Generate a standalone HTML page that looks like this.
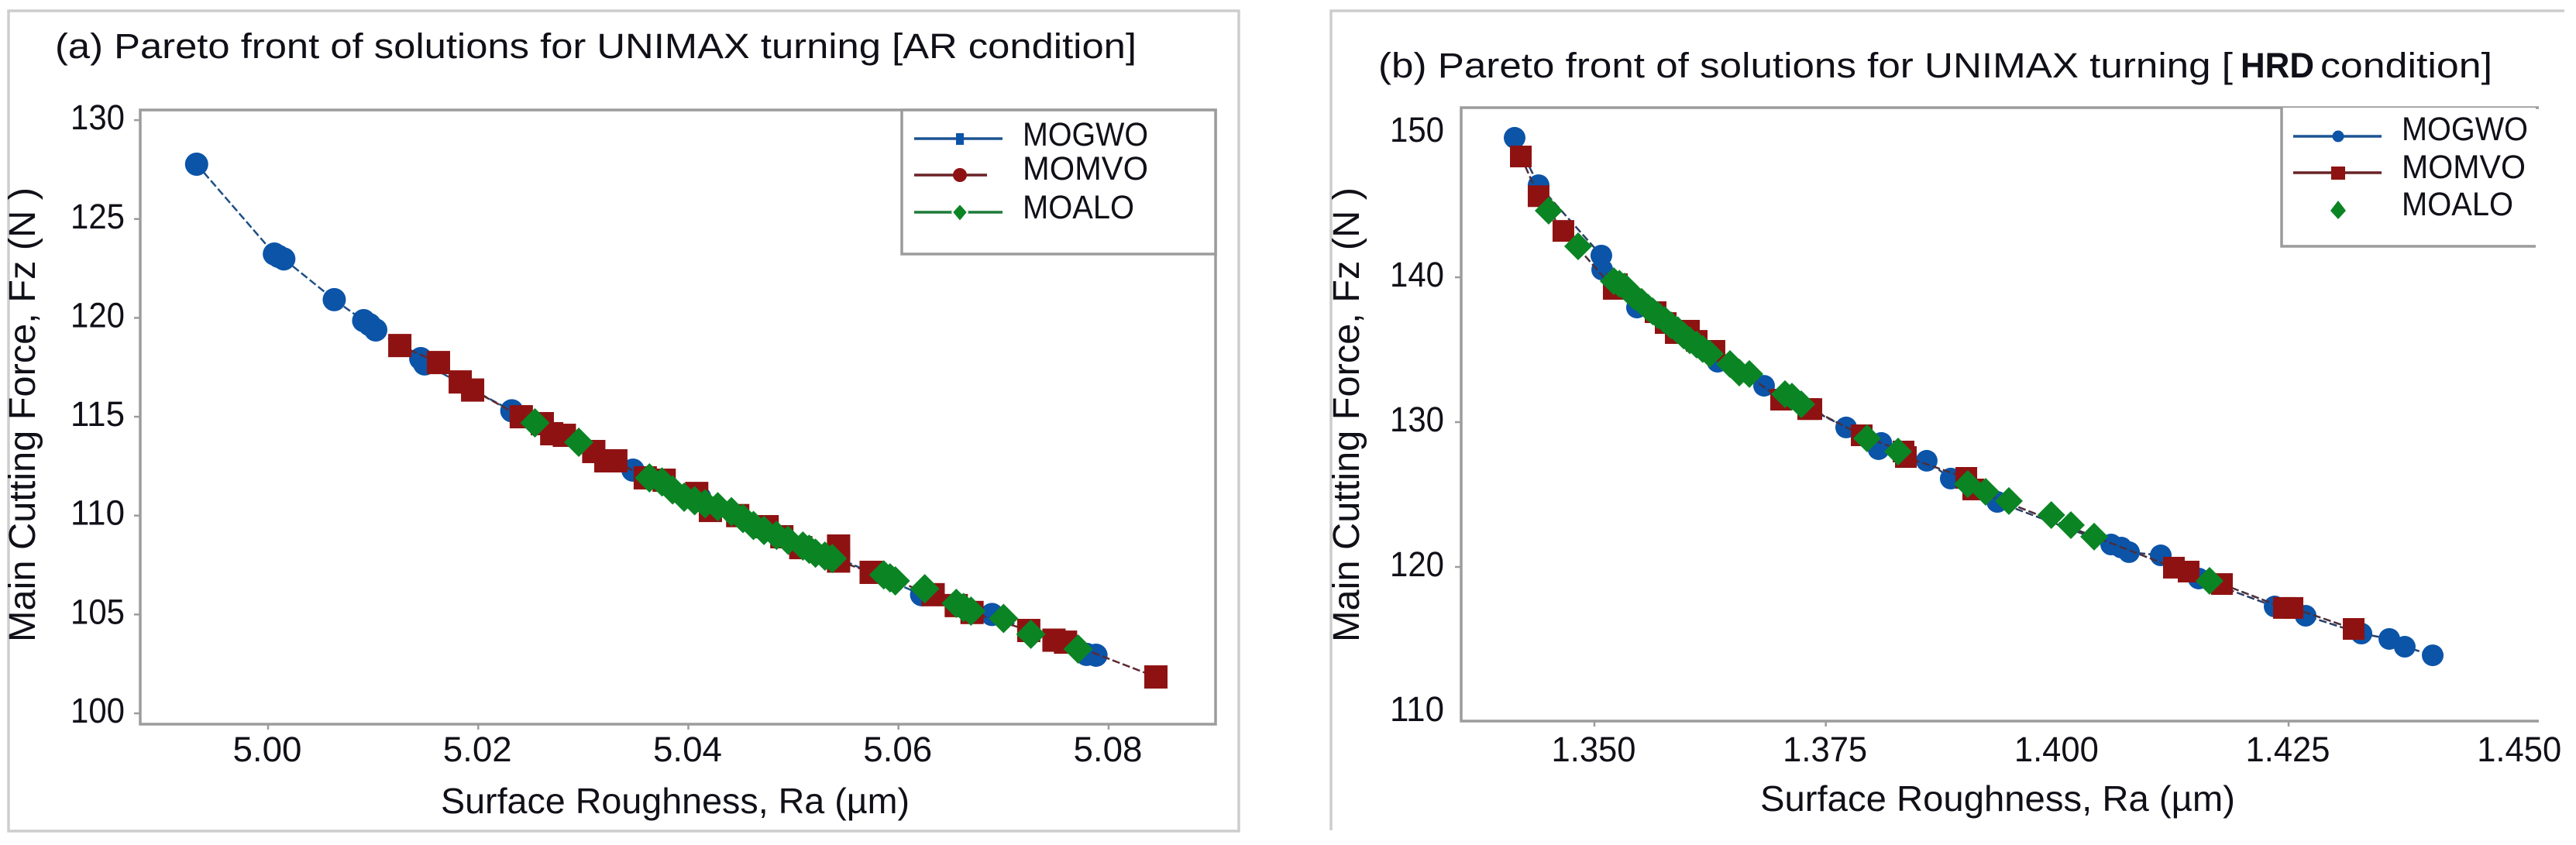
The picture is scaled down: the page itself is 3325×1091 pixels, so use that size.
<!DOCTYPE html>
<html lang="en">
<head>
<meta charset="utf-8">
<title>Pareto fronts for UNIMAX turning</title>
<style>
html,body{margin:0;padding:0;background:#fff;}
svg{display:block;}
text{font-family:"Liberation Sans",sans-serif;fill:#101018;}
</style>
</head>
<body>
<svg id="figure" xmlns="http://www.w3.org/2000/svg" width="3325" height="1091" viewBox="0 0 3325 1091">
  <rect x="0" y="0" width="3325" height="1091" fill="#ffffff"/>

  <g fill="none" stroke="#cdcdcd" stroke-width="3.5">
    <rect x="11" y="14" width="1588" height="1059"/>
  </g>
  <g fill="none" stroke="#cdcdcd" stroke-width="3.5">
    <path d="M1718 1072V14H3310"/>
  </g>

  <text x="71" y="75" font-size="45" textLength="1396" lengthAdjust="spacingAndGlyphs">(a) Pareto front of solutions for UNIMAX turning [AR condition]</text>
  <g font-size="45">
    <text x="1779" y="100" textLength="1103" lengthAdjust="spacingAndGlyphs">(b) Pareto front of solutions for UNIMAX turning [</text>
    <text x="2892" y="100" font-weight="700" textLength="95" lengthAdjust="spacingAndGlyphs">HRD</text>
    <text x="2995" y="100" textLength="222" lengthAdjust="spacingAndGlyphs">condition]</text>
  </g>

  <text transform="translate(45 829) rotate(-90)" font-size="48" textLength="587" lengthAdjust="spacingAndGlyphs">Main Cutting Force, Fz (N )</text>
  <text transform="translate(1754 829) rotate(-90)" font-size="48" textLength="587" lengthAdjust="spacingAndGlyphs">Main Cutting Force, Fz (N )</text>
  <text x="569" y="1050" font-size="46" textLength="605" lengthAdjust="spacingAndGlyphs">Surface Roughness, Ra (µm)</text>
  <text x="2272" y="1047" font-size="46" textLength="613" lengthAdjust="spacingAndGlyphs">Surface Roughness, Ra (µm)</text>

  <g id="chart-a"></g>
  <g id="chart-b"></g>

  <g>
    <rect x="1164" y="142" width="405" height="186" fill="#ffffff" stroke="#9c9c9c" stroke-width="3.5"/>
    <g>
      <line x1="1180" x2="1294" y1="179" y2="179" stroke="#1d5492" stroke-width="3.5"/>
      <rect x="1234" y="172" width="10" height="15" fill="#0b54a8"/>
      <text x="1320" y="188" font-size="43" textLength="162" lengthAdjust="spacingAndGlyphs">MOGWO</text>
    </g>
    <g>
      <line x1="1180" x2="1274" y1="226" y2="226" stroke="#6a2226" stroke-width="3.5"/>
      <ellipse cx="1239" cy="226" rx="9" ry="9" fill="#8f1212"/>
      <text x="1320" y="232" font-size="43" textLength="162" lengthAdjust="spacingAndGlyphs">MOMVO</text>
    </g>
    <g>
      <line x1="1180" x2="1294" y1="274" y2="274" stroke="#1c7a38" stroke-width="3.5"/>
      <polygon points="1239,263 1249,274 1239,286 1229,274" fill="#0b8424" stroke="#ffffff" stroke-width="2"/>
      <text x="1320" y="282" font-size="43" textLength="144" lengthAdjust="spacingAndGlyphs">MOALO</text>
    </g>
  </g>

  <g>
    <rect x="2945" y="139" width="328" height="179" fill="#ffffff"/>
    <path d="M2945 139V318H3273" fill="none" stroke="#9c9c9c" stroke-width="3.5"/>
    <g>
      <line x1="2960" x2="3074" y1="176" y2="176" stroke="#1d5492" stroke-width="3.5"/>
      <circle cx="3018" cy="176" r="7.5" fill="#0b54a8"/>
      <text x="3100" y="181" font-size="43" textLength="163" lengthAdjust="spacingAndGlyphs">MOGWO</text>
    </g>
    <g>
      <line x1="2960" x2="3074" y1="223" y2="223" stroke="#6a2226" stroke-width="3.5"/>
      <rect x="3009" y="215" width="18" height="17" fill="#8f1212"/>
      <text x="3100" y="230" font-size="43" textLength="160" lengthAdjust="spacingAndGlyphs">MOMVO</text>
    </g>
    <g>
      <polygon points="3018,259 3028,272 3018,283 3008,272" fill="#0b8424"/>
      <text x="3100" y="278" font-size="43" textLength="144" lengthAdjust="spacingAndGlyphs">MOALO</text>
    </g>
  </g>
</svg>

<script>
// ---- Chart (a) AR condition : data ----
const aXTickValues = [5.00, 5.02, 5.04, 5.06, 5.08];
const aXTickLabels = ['5.00', '5.02', '5.04', '5.06', '5.08'];
const aYTickValues = [100, 105, 110, 115, 120, 125, 130];
const aYTickLabels = ['100', '105', '110', '115', '120', '125', '130'];

const aMogwoRa = [4.9932, 5.0006, 5.0010, 5.0015, 5.0063, 5.0091, 5.00966, 5.01025, 5.01453, 5.0149, 5.0232, 5.03473, 5.0411, 5.0622, 5.0689, 5.0779, 5.0788];
const aMogwoFz = [127.77, 123.23, 123.11, 122.98, 120.92, 119.86, 119.66, 119.39, 117.94, 117.67, 115.3, 112.3, 110.9, 106.0, 105.0, 102.98, 102.94];

const aMomvoRa = [5.01254, 5.01622, 5.01829, 5.01947, 5.0241, 5.0261, 5.027, 5.0282, 5.031, 5.03215, 5.0331, 5.0359, 5.0377, 5.0408, 5.0421, 5.0447, 5.0475, 5.0489, 5.0507, 5.0543, 5.0543, 5.0574, 5.0633, 5.0655, 5.067, 5.0724, 5.0748, 5.0759, 5.0845];
const aMomvoFz = [118.6, 117.74, 116.76, 116.35, 115.0, 114.65, 114.14, 114.06, 113.24, 112.77, 112.77, 111.91, 111.79, 111.12, 110.26, 110.0, 109.44, 108.93, 108.38, 108.46, 107.7, 107.13, 106.0, 105.45, 105.1, 104.19, 103.7, 103.6, 101.84];

const aMoaloRa = [5.0254, 5.02957, 5.0363, 5.0375, 5.0385, 5.0396, 5.0406, 5.0416, 5.0428, 5.0441, 5.0452, 5.0462, 5.0472, 5.0484, 5.0495, 5.0509, 5.0515, 5.0521, 5.053, 5.0537, 5.0586, 5.0592, 5.0597, 5.0625, 5.0655, 5.0662, 5.0669, 5.07, 5.0726, 5.0771];
const aMoaloFz = [114.69, 113.71, 111.91, 111.7, 111.3, 110.93, 110.75, 110.6, 110.45, 110.2, 109.85, 109.5, 109.25, 109.0, 108.75, 108.46, 108.3, 108.1, 107.95, 107.83, 107.0, 106.85, 106.7, 106.3, 105.56, 105.35, 105.17, 104.8, 104.0, 103.25];

// ---- Chart (b) HRD condition : data ----
const bXTickValues = [1.350, 1.375, 1.400, 1.425, 1.450];
const bXTickLabels = ['1.350', '1.375', '1.400', '1.425', '1.450'];
const bXTickMarks = [1.350, 1.375, 1.425];
const bYTickValues = [110, 120, 130, 140, 150];
const bYTickLabels = ['110', '120', '130', '140', '150'];
const bYTickMarks = [120, 130, 140];

const bMogwoRa = [1.34138, 1.34397, 1.35075, 1.35084, 1.3546, 1.36331, 1.36833, 1.3772, 1.3807, 1.3810, 1.3859, 1.3885, 1.39353, 1.40583, 1.40692, 1.40776, 1.41119, 1.41529, 1.42349, 1.42684, 1.43287, 1.43588, 1.43755, 1.44057];
const bMogwoFz = [149.63, 146.36, 141.5, 140.53, 137.91, 134.17, 132.51, 129.63, 128.13, 128.56, 127.33, 126.1, 124.49, 121.55, 121.34, 121.02, 120.8, 119.2, 117.27, 116.63, 115.4, 115.03, 114.49, 113.9];

const bMomvoRa = [1.34205, 1.34397, 1.34665, 1.35209, 1.35243, 1.35661, 1.3577, 1.35879, 1.36021, 1.36105, 1.36297, 1.37017, 1.3731, 1.37344, 1.37888, 1.3834, 1.38365, 1.39018, 1.39093, 1.41261, 1.4142, 1.4178, 1.4245, 1.42542, 1.43203];
const bMomvoFz = [148.34, 145.6, 143.2, 139.2, 139.52, 137.59, 136.84, 136.15, 136.31, 135.61, 134.92, 131.55, 130.9, 130.9, 129.09, 127.97, 127.59, 126.15, 125.35, 119.95, 119.68, 118.82, 117.17, 117.17, 115.72];

const bMoaloRa = [1.34506, 1.34824, 1.35209, 1.3527, 1.35326, 1.3538, 1.35435, 1.3551, 1.35578, 1.3563, 1.35686, 1.3576, 1.35829, 1.359, 1.35963, 1.3603, 1.36105, 1.3617, 1.36247, 1.36465, 1.36565, 1.36674, 1.37059, 1.37134, 1.37235, 1.37946, 1.38281, 1.39034, 1.39227, 1.39478, 1.39936, 1.40148, 1.40399, 1.41646];
const bMoaloFz = [144.6, 142.14, 139.73, 139.55, 139.36, 139.0, 138.66, 138.3, 137.91, 137.65, 137.38, 137.05, 136.68, 136.35, 135.99, 135.65, 135.35, 135.05, 134.71, 134.01, 133.42, 133.32, 131.93, 131.76, 131.23, 128.88, 127.97, 125.72, 125.19, 124.55, 123.58, 122.89, 122.09, 119.04];

const SVG_NS = 'http://www.w3.org/2000/svg';

function shape(parent, tag, attrs) {
  const el = document.createElementNS(SVG_NS, tag);
  for (const key in attrs) el.setAttribute(key, attrs[key]);
  parent.appendChild(el);
  return el;
}

function drawSeries(root, seriesName, xs, ys, xScale, yScale, color, lineColor, showLine, size, kind) {
  const group = shape(root, 'g', {});
  
  
  const order = xs.map((_, i) => i).sort((p, q) => xs[p] - xs[q]);
  if (showLine) {
    const pts = order.map(i => xScale(xs[i]).toFixed(1) + ',' + yScale(ys[i]).toFixed(1)).join(' ');
    const line = shape(group, 'polyline', { points: pts, fill: 'none', stroke: lineColor, 'stroke-width': 2.5, 'stroke-dasharray': '10 4' });
    
    
  }
  xs.forEach((v, i) => {
    const cx = xScale(v);
    const cy = yScale(ys[i]);
    let mark;
    if (kind === 'circle') {
      mark = shape(group, 'circle', { cx: cx, cy: cy, r: size, fill: color });
    } else if (kind === 'square') {
      mark = shape(group, 'rect', { x: cx - size, y: cy - size, width: size * 2, height: size * 2, fill: color });
    } else {
      const d = [cx + ',' + (cy - size), (cx + size) + ',' + cy, cx + ',' + (cy + size), (cx - size) + ',' + cy].join(' ');
      mark = shape(group, 'polygon', { points: d, fill: color });
    }
    
    
  });
}

function drawAxes(root, opt) {
  const axes = shape(root, 'g', { stroke: '#9c9c9c', 'stroke-width': 3.5, fill: 'none' });
  
  

  const border = shape(axes, 'path', { d: opt.borderPath });
  
  

  opt.xMarks.forEach(v => {
    const tick = shape(axes, 'line', { x1: opt.x(v), x2: opt.x(v), y1: opt.bottom, y2: opt.bottom + 7, 'stroke-width': 2.5 });
    
    
  });
  opt.yMarks.forEach(v => {
    const tick = shape(axes, 'line', { x1: opt.left - 8, x2: opt.left, y1: opt.y(v), y2: opt.y(v), 'stroke-width': 2.5 });
    
    
  });
  opt.xValues.forEach((v, i) => {
    const label = shape(root, 'text', { x: opt.x(v) - 1 - opt.xLabelWidth / 2, y: 983, 'font-size': 45, textLength: opt.xLabelWidth, lengthAdjust: 'spacingAndGlyphs' });
    label.textContent = opt.xLabels[i];
    
    
  });
  opt.yValues.forEach((v, i) => {
    const label = shape(root, 'text', { x: opt.yLabelRight - 70, y: opt.y(v) + 12, 'font-size': 45, textLength: 70, lengthAdjust: 'spacingAndGlyphs' });
    label.textContent = opt.yLabels[i];
    
    
  });
}

// Chart (a) scales
const xA = v => 346 + (v - 5.00) * 13562;
const yA = v => 921 - (v - 100) * 25.53;
const rootA = document.getElementById('chart-a');
drawAxes(rootA, {
  id: 'chart-a', x: xA, y: yA, left: 181, bottom: 935,
  borderPath: 'M181 142H1569V935H181Z',
  xValues: aXTickValues, xLabels: aXTickLabels, xMarks: aXTickValues,
  yValues: aYTickValues, yLabels: aYTickLabels, yMarks: aYTickValues,
  xLabelWidth: 89, yLabelRight: 161
});
drawSeries(rootA, 'a-mogwo', aMogwoRa, aMogwoFz, xA, yA, '#0b54a8', '#1d4f86', true, 15, 'circle');
drawSeries(rootA, 'a-momvo', aMomvoRa, aMomvoFz, xA, yA, '#8f1212', '#5c2a30', true, 15, 'square');
drawSeries(rootA, 'a-moalo', aMoaloRa, aMoaloFz, xA, yA, '#0b8424', '#1c6a38', false, 19, 'diamond');

// Chart (b) scales
const xB = v => 2058 + (v - 1.35) * 11947;
const yB = v => 358 + (140 - v) * 18.7;
const rootB = document.getElementById('chart-b');
drawAxes(rootB, {
  id: 'chart-b', x: xB, y: yB, left: 1886, bottom: 931,
  borderPath: 'M3277 139H1886V931H3277',
  xValues: bXTickValues, xLabels: bXTickLabels, xMarks: bXTickMarks,
  yValues: bYTickValues, yLabels: bYTickLabels, yMarks: bYTickMarks,
  xLabelWidth: 109, yLabelRight: 1864
});
drawSeries(rootB, 'b-mogwo', bMogwoRa, bMogwoFz, xB, yB, '#0b54a8', '#2b3f66', true, 14, 'circle');
drawSeries(rootB, 'b-momvo', bMomvoRa, bMomvoFz, xB, yB, '#8f1212', '#4a2f3c', true, 14, 'square');
drawSeries(rootB, 'b-moalo', bMoaloRa, bMoaloFz, xB, yB, '#0b8424', '#1c6a38', false, 18, 'diamond');
</script>
</body>
</html>
